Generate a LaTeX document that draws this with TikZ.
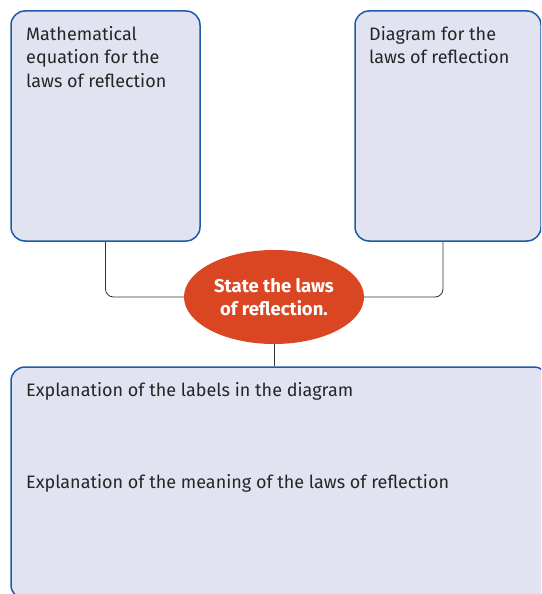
\documentclass[tikz,border=0pt]{standalone}
\usepackage{fontspec}
\setmainfont{Fira Sans}
\usetikzlibrary{calc,shapes.geometric,positioning}
\definecolor{boxfill}{HTML}{E1E3F1}
\definecolor{boxline}{HTML}{1D5BA8}
\definecolor{lawsfill}{HTML}{D94621}

\begin{document}
\begin{tikzpicture}[x=1pt, y=-1pt,
    infobox/.style={rectangle, rounded corners=14pt, draw=boxline, fill=boxfill, line width=1.5pt, inner sep=0pt},
    boxtext/.style={anchor=north west, inner sep=0pt, align=left, font=\fontsize{18}{23.5}\selectfont, text=black!85},
    link/.style={draw=black!80, line width=0.8pt, rounded corners=8pt}
]
    \useasboundingbox (0,0) rectangle (541,594);
    \clip (0,0) rectangle (541,594);
    \node[infobox, minimum width=189pt, minimum height=230pt] (mathbox) at (105.5,126) {};
    \node[infobox, minimum width=186pt, minimum height=230pt] (diagbox) at (448,126) {};
    \node[infobox, minimum width=537pt, minimum height=232pt] (explbox) at (279.5,483) {};
    \node[ellipse, fill=lawsfill, minimum width=180pt, minimum height=94pt, inner sep=0pt, align=center,
          text=white, font=\fontsize{18.5}{23.5}\selectfont\bfseries] (laws) at (274,297) {State the laws\\of reflection.};
    % texts in the boxes
    \node[boxtext] (mathtext) at (26,26) {Mathematical\\equation for the\\laws of reflection};
    \node[boxtext] (diagtext) at (369,26) {Diagram for the\\laws of reflection};
    \node[boxtext] (labeltext) at (26,382) {Explanation of the labels in the diagram};
    \node[boxtext] (meantext) at (26,474) {Explanation of the meaning of the laws of reflection};
    % connectors
    \draw[link] (mathbox.south) |- (laws.west);
    \draw[link] (laws.east) -| ([xshift=-5pt]diagbox.south);
    \draw[link] (laws.south) -- (laws.south |- explbox.north);
\end{tikzpicture}
\end{document}
